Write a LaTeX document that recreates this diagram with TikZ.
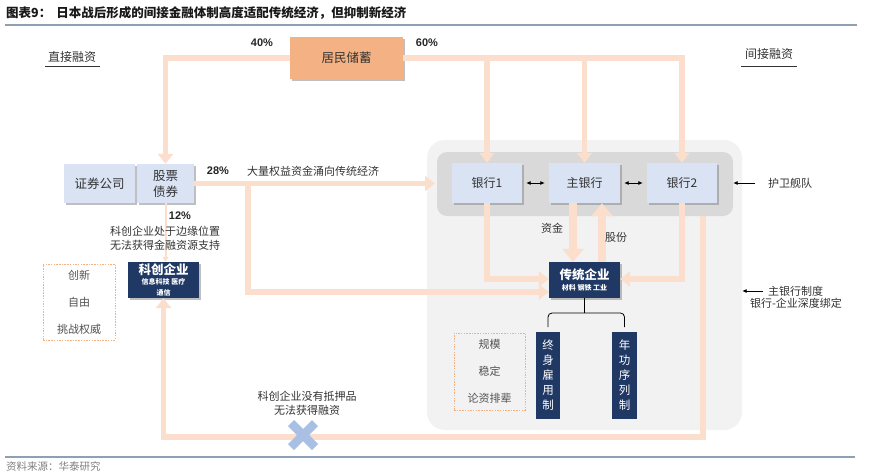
\documentclass[tikz,border=0pt]{standalone}
\usepackage{fontspec}
\setmainfont{Noto Sans CJK SC}
\newfontfamily\pctfont{Liberation Sans}
\usetikzlibrary{arrows.meta,shadows}
\definecolor{lo}{HTML}{FBDFCC}
\definecolor{orb}{HTML}{F4B183}
\definecolor{lb}{HTML}{DAE3F3}
\definecolor{navy}{HTML}{1F3864}
\definecolor{areac}{HTML}{F2F2F2}
\definecolor{bandc}{HTML}{D9D9D9}
\definecolor{xc}{HTML}{A9BFE3}
\definecolor{tl}{HTML}{8EA0B6}
\definecolor{txt}{HTML}{333333}
\tikzset{
  shad/.style={drop shadow={shadow xshift=1.8pt, shadow yshift=-1.8pt, fill=black!45, opacity=.55}},
  oline/.style={draw=lo, line width=5.5pt},
  oarrow/.style={oline, -{Triangle[width=15pt,length=10pt]}},
  thinarrow/.style={draw=lo, line width=2pt, -{Triangle[width=6pt,length=5pt]}},
  tarrow/.style={draw=lo, line width=8pt, -{Triangle[width=21pt,length=13pt]}},
  sarrow/.style={draw=black, line width=0.8pt, -{Latex[length=4.5pt,width=4pt]}},
  dblarrow/.style={draw=black, line width=0.8pt, {Latex[length=4.5pt,width=4pt]}-{Latex[length=4.5pt,width=4pt]}},
  bbox/.style={fill=lb, shad, inner sep=0pt, minimum height=40pt, text=txt, font=\fontsize{12}{14}\selectfont},
  obox/.style={fill=orb, shad, inner sep=0pt, text=txt, font=\fontsize{12.5}{14}\selectfont},
  nbox/.style={fill=navy, shad, inner sep=0pt, text=white, align=center},
  vbox/.style={fill=navy, inner sep=0pt, text=white, align=center, minimum height=87pt, font=\fontsize{11.5}{15}\selectfont},
  dbox/.style={draw=orb, line width=0.6pt, dash pattern=on 1.5pt off 1.2pt, inner sep=0pt, align=center, text=txt!85, font=\fontsize{11}{27}\selectfont},
  lbl/.style={text=txt, inner sep=1pt, font=\fontsize{11}{14}\selectfont, align=center},
  pct/.style={text=black!85, inner sep=1pt, font=\pctfont\bfseries\fontsize{11}{13}\selectfont},
  rule/.style={draw=tl, line width=1.6pt},
  uline/.style={draw=black!80, line width=0.8pt},
  xmark/.style={draw=xc, line width=8.5pt}
}
\begin{document}
\begin{tikzpicture}[x=1pt,y=-1pt]
\useasboundingbox[fill=white] (0,0) rectangle (870,472);
% title and rules
\node[anchor=west, inner sep=0pt, text=black!90, font=\bfseries\fontsize{12.5}{14}\selectfont] (title) at (6,13) {图表9：\hspace{5pt}日本战后形成的间接金融体制高度适配传统经济，但抑制新经济};
\coordinate (tl1) at (5,25); \coordinate (tl2) at (857,25);
\draw[rule] (tl1) -- (tl2);
\coordinate (bl1) at (5,457); \coordinate (bl2) at (855,457);
\draw[rule] (bl1) -- (bl2);
\node[anchor=west, inner sep=0pt, text=black!50, font=\fontsize{10.5}{12}\selectfont] (src) at (6,466) {资料来源：华泰研究};
% headings
\node[lbl, font=\fontsize{12}{14}\selectfont] (zj) at (72,57) {直接融资};
\draw[uline] ([yshift=-9pt]zj.center -| 45,0) -- ([yshift=-9pt]zj.center -| 100,0);
\node[lbl, font=\fontsize{12}{14}\selectfont] (jj) at (769,54) {间接融资};
\draw[uline] ([yshift=-12.5pt]jj.center -| 741,0) -- ([yshift=-12.5pt]jj.center -| 797,0);
% background areas
\node[fill=areac, rounded corners=18pt, minimum width=315pt, minimum height=290pt, inner sep=0pt] (area) at (584.5,285) {};
\node[fill=bandc, rounded corners=10pt, minimum width=296pt, minimum height=64pt, inner sep=0pt] (band) at (585,184) {};
% boxes
\node[obox, minimum width=113pt, minimum height=42pt] (jm) at (346.5,58) {居民储蓄};
\node[bbox, minimum width=71pt, minimum height=39pt, font=\fontsize{12.5}{14}\selectfont] (zq) at (99.5,183.5) {证券公司};
\node[bbox, minimum width=57pt, minimum height=39pt, align=center, font=\fontsize{12.5}{16}\selectfont] (gp) at (165.5,183.5) {股票\\债券};
\node[bbox, minimum width=70pt] (b1) at (487,183) {银行1};
\node[bbox, minimum width=71pt] (mb) at (584.5,183) {主银行};
\node[bbox, minimum width=70pt] (b2) at (682,183) {银行2};
\node[nbox, minimum width=71pt, minimum height=36pt] (ct) at (584.5,280) {{\bfseries\fontsize{12.5}{13}\selectfont 传统企业}\\[-1pt]{\bfseries\fontsize{7}{8}\selectfont 材料 钢铁 工业}};
\node[nbox, minimum width=71pt, minimum height=36pt] (kc) at (163.5,280) {{\bfseries\fontsize{12.5}{13}\selectfont 科创企业}\\[-2pt]{\bfseries\fontsize{7}{8}\selectfont 信息科技 医疗}\\[-1pt]{\bfseries\fontsize{7}{8}\selectfont 通信}};
\node[vbox, minimum width=24pt] (zs) at (548,375.5) {终\\身\\雇\\用\\制};
\node[vbox, minimum width=25pt] (ng) at (624.5,375.5) {年\\功\\序\\列\\制};
\node[dbox, minimum width=72pt, minimum height=76pt] (lf) at (79,302) {创新\\自由\\挑战权威};
\node[dbox, minimum width=71pt, minimum height=77pt] (rt) at (489.5,371.5) {规模\\稳定\\论资排辈};
% savings flows
\draw[oarrow] (jm.west) -| (gp.north);
\draw[oarrow] (jm.east) -| (b2.north);
\draw[oarrow] (b1.north |- jm.east) -- (b1.north);
\draw[oarrow] (mb.north |- jm.east) -- (mb.north);
% 28% flow
\coordinate (br) at (248,183.5);
\coordinate (ain) at (435,183.5);
\draw[oarrow] (gp.east) -- (ain);
\draw[oarrow] (br) |- ([yshift=-12pt]ct.west);
% banks to traditional firms
\draw[oarrow] (b1.south) |- ([yshift=1pt]ct.west);
\draw[oarrow] (b2.south) |- ([yshift=1pt]ct.east);
\draw[tarrow] ([xshift=-11.5pt]mb.south) -- ([xshift=-11.5pt]ct.north);
\draw[tarrow] ([xshift=17.5pt]ct.north) -- ([xshift=17.5pt]mb.south);
% bottom loop
\coordinate (lp) at (703,216);
\coordinate (lb) at (703,437);
\draw[oarrow] (lp) -- (lb) -| (kc.south);
% 12% flow
\draw[thinarrow] (gp.south) -- (gp.south |- kc.north);
% bank links
\draw[dblarrow] ([xshift=4pt]b1.east) -- ([xshift=-4pt]mb.west);
\draw[dblarrow] ([xshift=4pt]mb.east) -- ([xshift=-4pt]b2.west);
% bracket
\coordinate (bk) at (584.5,313);
\draw[black, line width=0.8pt] (ct.south) -- (bk);
\draw[black, line width=0.8pt, rounded corners=4pt] (zs.north |- 0,327) -- (zs.north |- bk) -- (ng.north |- bk) -- (ng.north |- 0,327);
% X mark
\coordinate (xm) at (303,435);
\draw[xmark] ([xshift=-12pt,yshift=12pt]xm) -- ([xshift=12pt,yshift=-12pt]xm);
\draw[xmark] ([xshift=-12pt,yshift=-12pt]xm) -- ([xshift=12pt,yshift=12pt]xm);
% labels
\node[pct] (p40) at (262,43) {40\%};
\node[pct] (p60) at (427,43) {60\%};
\node[pct] (p28) at (218,171) {28\%};
\node[pct] (p12) at (180,216) {12\%};
\node[lbl] (l28) at (313,171) {大量权益资金涌向传统经济};
\node[lbl] (l12) at (165,238) {科创企业处于边缘位置\\无法获得金融资源支持};
\node[lbl] (lzj) at (552,228) {资金};
\node[lbl] (lgf) at (616,237) {股份};
\node[lbl] (lx) at (307,403) {科创企业没有抵押品\\无法获得融资};
\node[lbl, anchor=west] (hw) at (767,183) {护卫舰队};
\draw[sarrow] ([xshift=-12pt]hw.west) -- (hw.west -| band.east);
\node[lbl, anchor=west] (zy) at (767,291) {主银行制度};
\draw[sarrow] ([xshift=-4pt]zy.west) -- (zy.west -| area.east);
\node[lbl, anchor=north] (zyb) at (796,297) {银行-企业深度绑定};
\end{tikzpicture}
\end{document}
